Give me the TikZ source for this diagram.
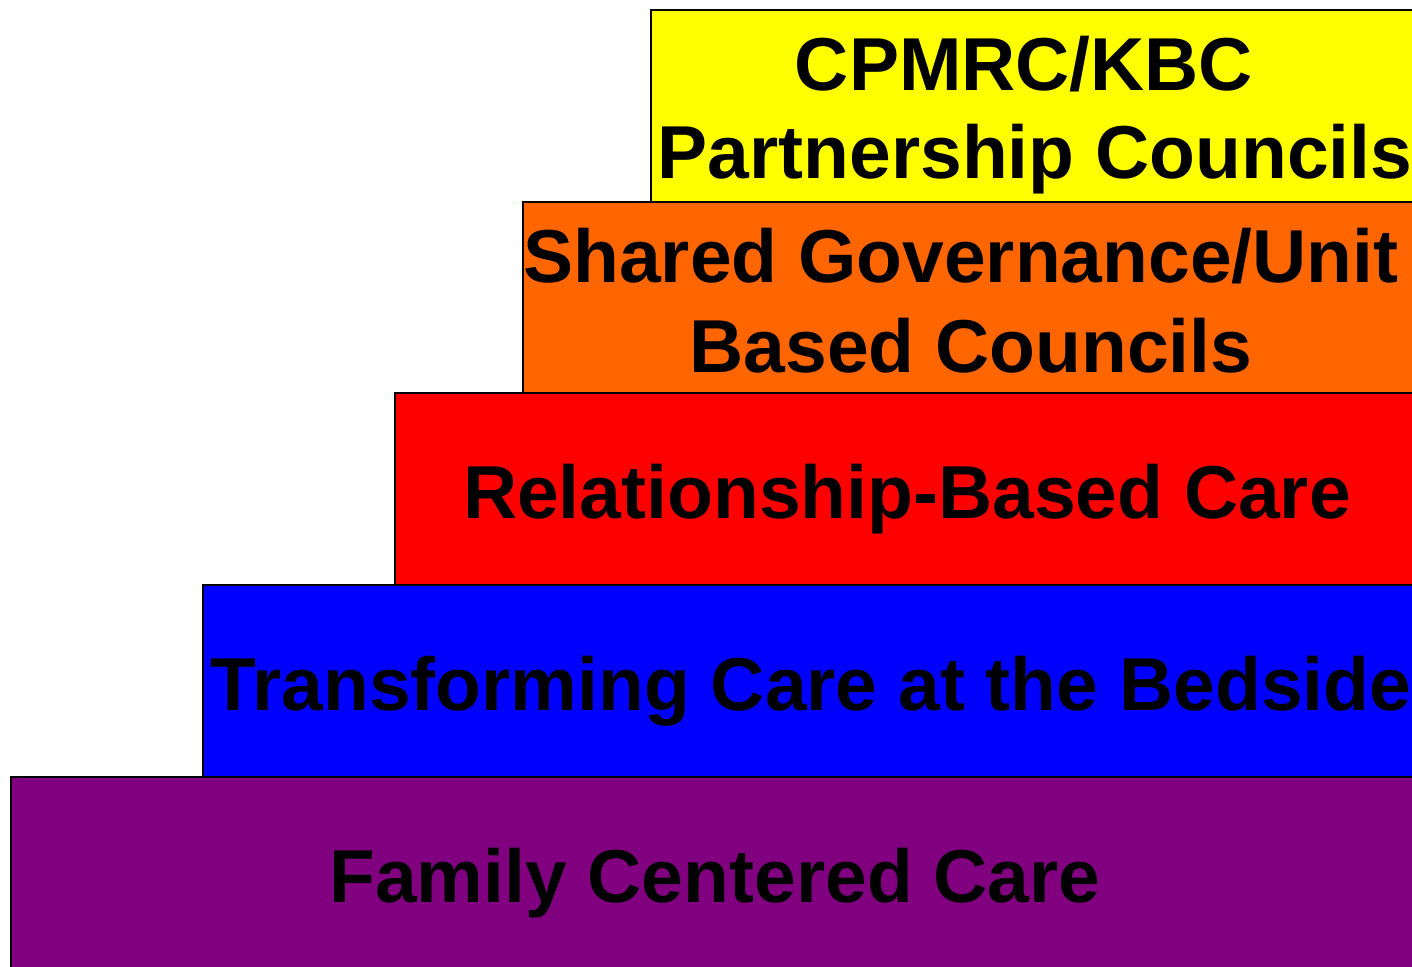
\documentclass[tikz,border=0pt]{standalone}
\usepackage{fontspec}
\setmainfont{Liberation Sans}
\begin{document}
\begin{tikzpicture}[x=1pt,y=-1pt,
  step box/.style={draw=black,line width=2pt},
  label text/.style={anchor=base,inner sep=0pt,font=\fontsize{75}{88}\selectfont\bfseries}]
\useasboundingbox (0,0) rectangle (1412,966);
\clip (0,0) rectangle (1412,966);
% stacked steps, bottom to top
\draw[step box,fill={rgb,255:red,128;green,0;blue,128}] (11,777) rectangle (1420,980);
\draw[step box,fill={rgb,255:red,0;green,0;blue,255}] (203,585) rectangle (1420,777);
\draw[step box,fill={rgb,255:red,255;green,0;blue,0}] (395,393) rectangle (1420,585);
\draw[step box,fill={rgb,255:red,255;green,102;blue,0}] (523,202) rectangle (1420,393);
\draw[step box,fill={rgb,255:red,255;green,255;blue,0}] (651,10) rectangle (1420,202);
% labels
\node[label text] (fcc) at (715,902) {Family Centered Care};
\node[label text] (tcab) at (811,710) {Transforming Care at the Bedside};
\node[label text] (rbc) at (907,518) {Relationship-Based Care};
\node[label text] (sg1) at (961,282) {Shared Governance/Unit};
\node[label text] (sg2) at (971,372) {Based Councils};
\node[label text] (cp1) at (1024,90) {CPMRC/KBC};
\node[label text] (cp2) at (1035,178) {Partnership Councils};
\end{tikzpicture}
\end{document}
